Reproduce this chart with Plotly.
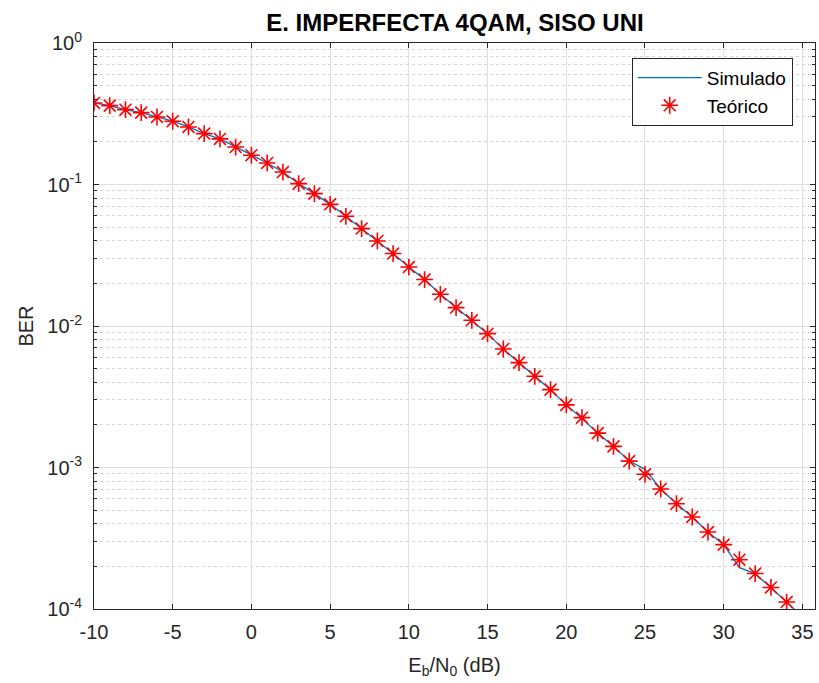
import plotly.graph_objects as go

ebn0_db = list(range(-10, 35))  # -10 .. 34 dB

ber_teorico = [0.377, 0.361, 0.338, 0.322, 0.300, 0.280, 0.255, 0.229, 0.210, 0.184,
               0.161, 0.142, 0.1225, 0.1014, 0.0862, 0.0724, 0.0596, 0.0488, 0.0399, 0.0325,
               0.0261, 0.0213, 0.01675, 0.01349, 0.01097, 0.00883, 0.00688, 0.00551, 0.00441, 0.00355,
               0.00277, 0.00225, 0.00175, 0.00141, 0.00111, 0.000895, 0.000705, 0.000555, 0.000447, 0.000350,
               0.000285, 0.000223, 0.000178, 0.000142, 0.000112]

ebn0_sim = list(range(-10, 36))  # simulated runs one step further (leaves the axis)
ber_simulado = [0.377, 0.361, 0.338, 0.322, 0.300, 0.280, 0.255, 0.229, 0.210, 0.184,
                0.161, 0.142, 0.1225, 0.1014, 0.0862, 0.0724, 0.0596, 0.0488, 0.0399, 0.0325,
                0.0261, 0.0213, 0.01675, 0.01349, 0.01097, 0.00883, 0.00688, 0.00551, 0.00441, 0.00355,
                0.00277, 0.00222, 0.00175, 0.00141, 0.00111, 0.00097, 0.000705, 0.000555, 0.000447, 0.000350,
                0.000285, 0.000196, 0.000178, 0.000142, 0.000112, 0.0000880]

y_tickvals = [1, 0.1, 0.01, 0.001, 0.0001]
y_ticktext = ["10<sup>0</sup>", "10<sup>-1</sup>", "10<sup>-2</sup>", "10<sup>-3</sup>", "10<sup>-4</sup>"]
x_tickvals = [-10, -5, 0, 5, 10, 15, 20, 25, 30, 35]
x_ticktext = ["-10", "-5", "0", "5", "10", "15", "20", "25", "30", "35"]

AX = "#262626"
FONT = "Liberation Sans, Arial, sans-serif"
FS = 20

fig = go.Figure()
fig.add_trace(go.Scatter(x=ebn0_sim, y=ber_simulado, mode="lines", name="Simulado",
                         line=dict(color="#0072BD", width=1.3)))
fig.add_trace(go.Scatter(x=ebn0_db, y=ber_teorico, mode="markers", name="Teórico",
                         marker=dict(symbol="asterisk-open", size=14,
                                     line=dict(color="#FF0000", width=1.6), color="#FF0000")))

fig.update_layout(
    width=819, height=683,
    margin=dict(l=94, r=4, t=43, b=74),
    paper_bgcolor="white", plot_bgcolor="white",
    font=dict(family=FONT, size=FS, color=AX),
    title=dict(text="<b>E. IMPERFECTA 4QAM, SISO UNI</b>", x=0.5555, xanchor="center",
               y=1 - 23 / 683, yanchor="middle", yref="container",
               font=dict(family=FONT, size=24, color="#000000")),
    showlegend=True,
    legend=dict(x=0.7458, y=0.974, xanchor="left", yanchor="top",
                bgcolor="white", bordercolor=AX, borderwidth=1,
                font=dict(family=FONT, size=19, color="#000000"),
                itemwidth=64, tracegroupgap=0),
)

fig.update_xaxes(
    range=[-10, 35.8], tickvals=x_tickvals, ticktext=x_ticktext,
    ticks="inside", ticklen=5, tickcolor=AX, ticklabelstandoff=5,
    showline=True, linecolor=AX, linewidth=1, mirror="ticks",
    showgrid=True, gridcolor="#DFDFDF", gridwidth=1, zeroline=False,
    tickfont=dict(size=FS, color=AX),
    title=dict(text="E<sub>b</sub>/N<sub>0</sub> (dB)", font=dict(size=FS, color=AX), standoff=15),
)
fig.update_yaxes(
    type="log", range=[-4, 0], tickvals=y_tickvals, ticktext=y_ticktext,
    ticks="inside", ticklen=5, tickcolor=AX, ticklabelstandoff=7,
    showline=True, linecolor=AX, linewidth=1, mirror="ticks",
    showgrid=True, gridcolor="#DFDFDF", gridwidth=1, zeroline=False,
    tickfont=dict(size=FS, color=AX),
    minor=dict(dtick="D1", showgrid=True, griddash="dot", gridcolor="#D4D4D4",
               ticks="inside", ticklen=3, tickcolor=AX),
    title=dict(text="BER", font=dict(size=FS, color=AX), standoff=8),
)

fig.write_html("out.html")
